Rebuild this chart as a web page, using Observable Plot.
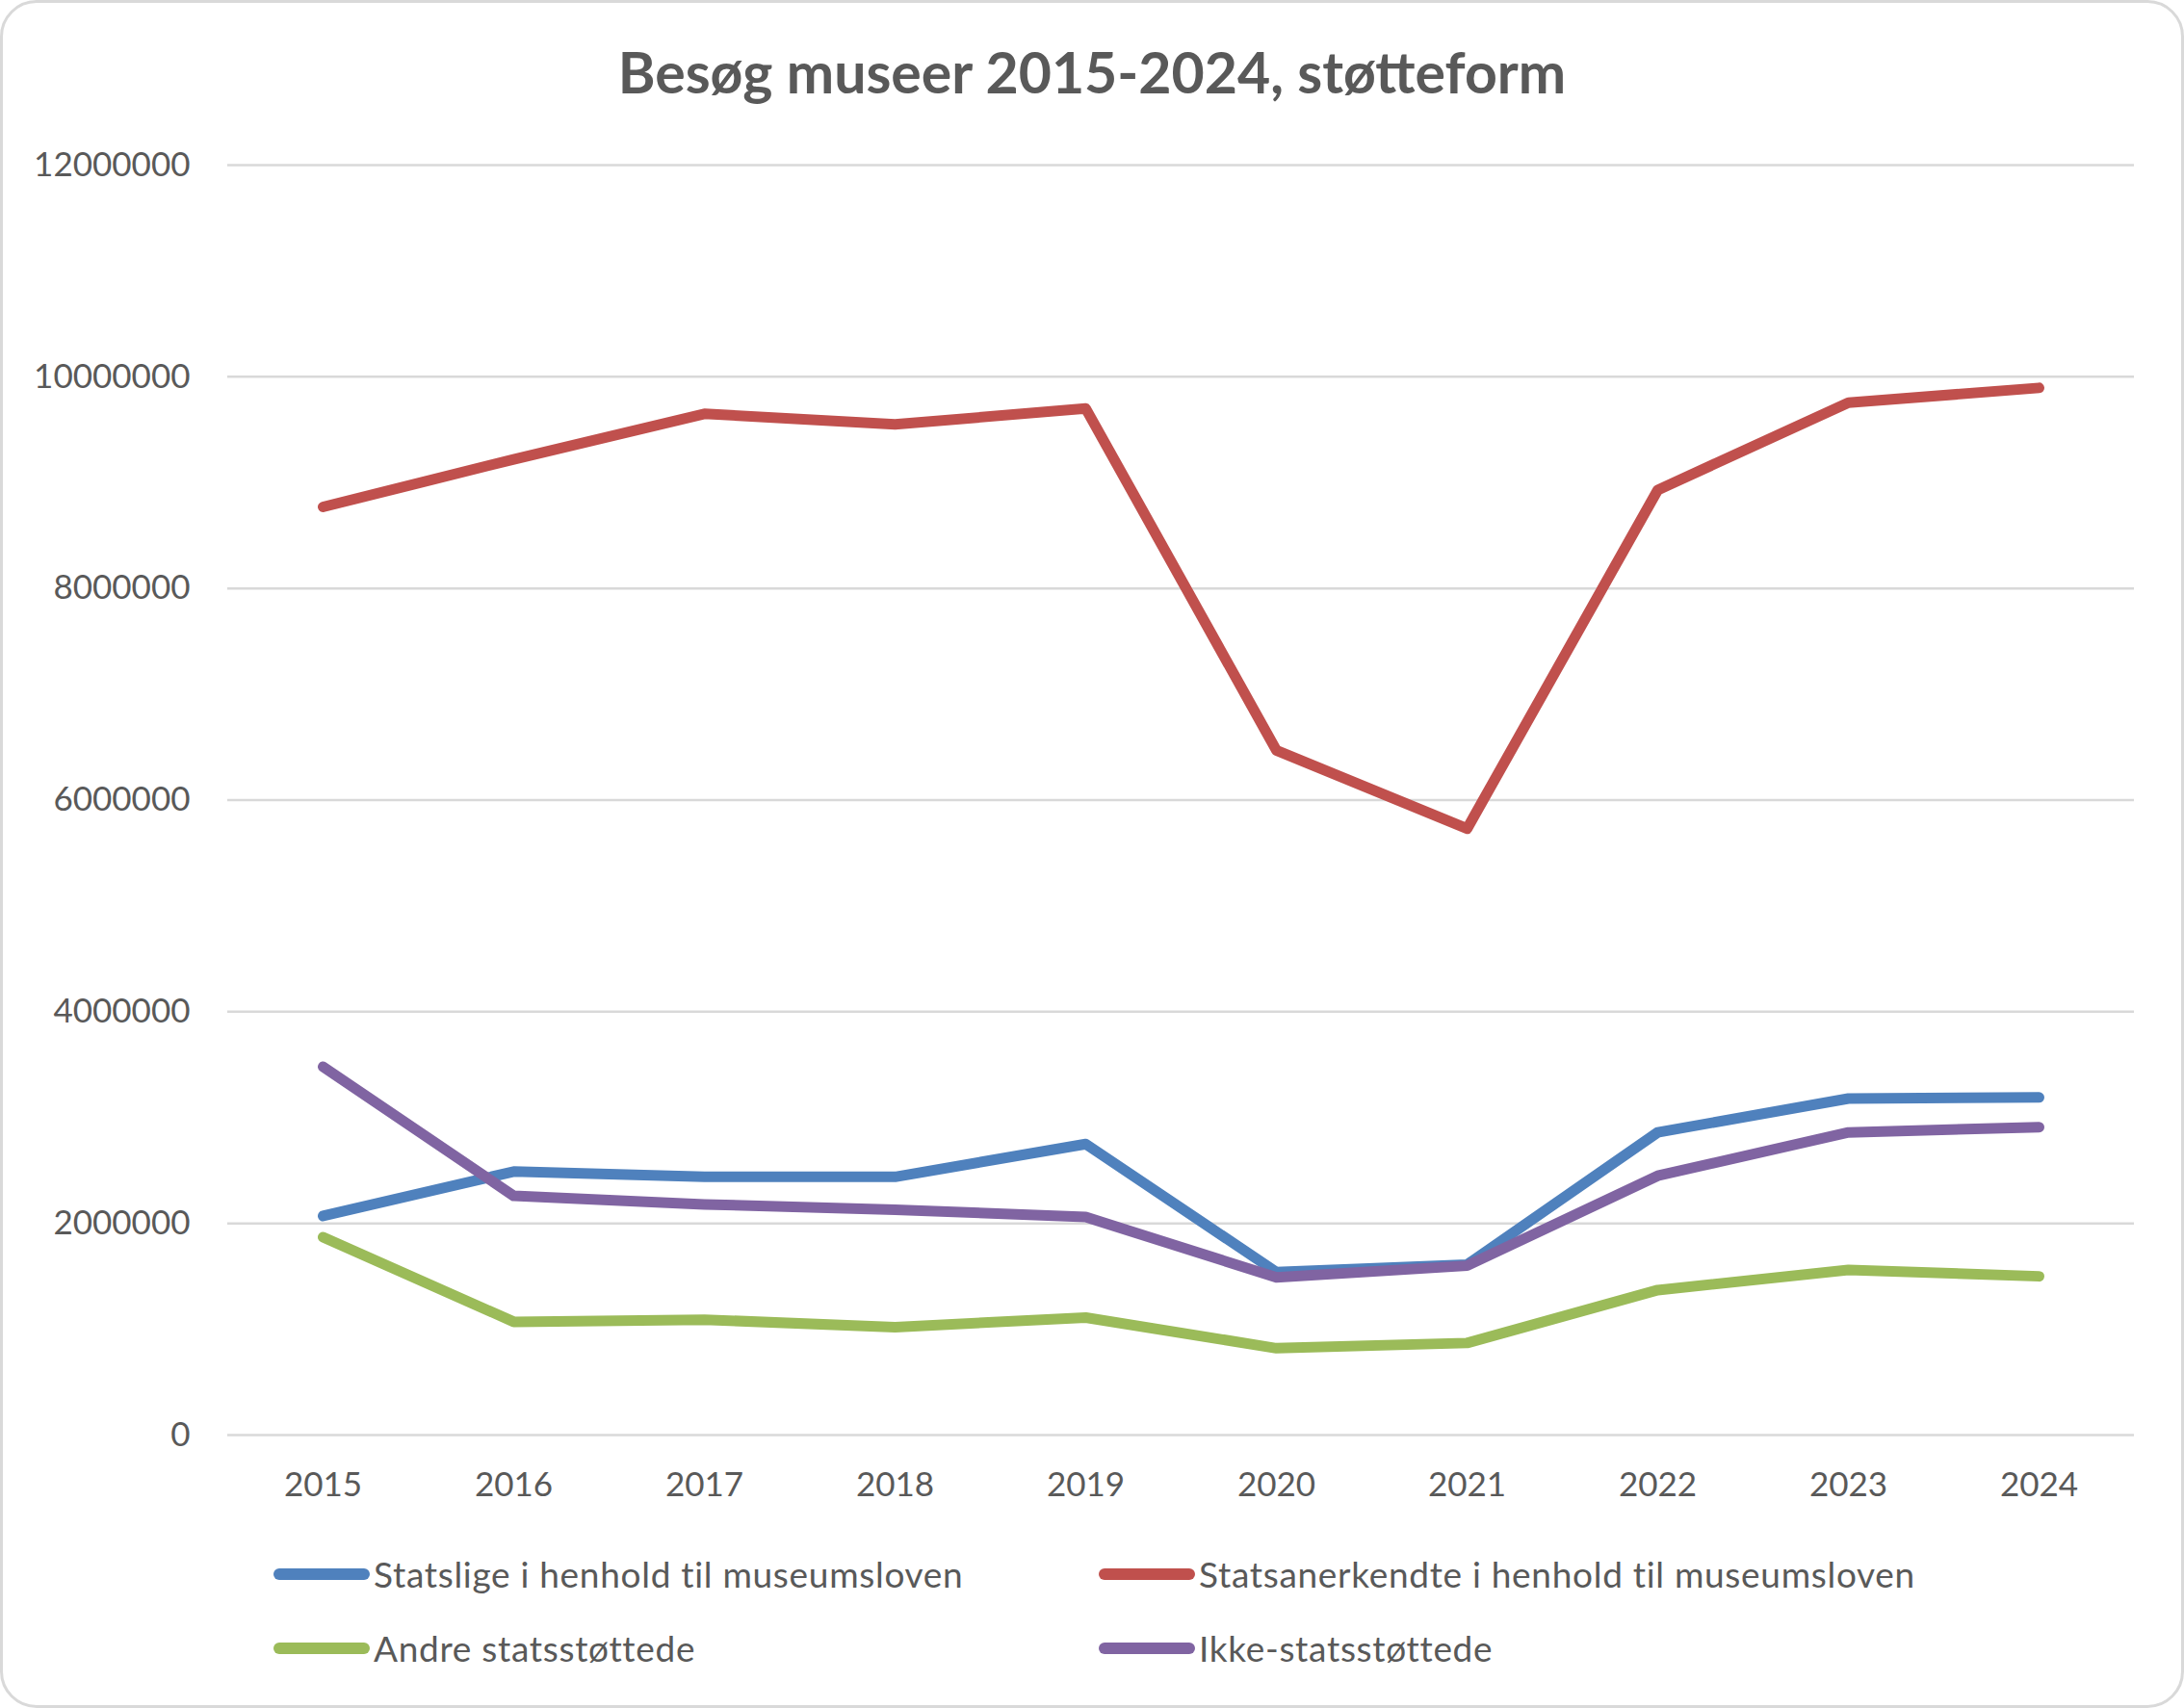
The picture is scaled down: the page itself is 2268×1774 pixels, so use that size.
<!DOCTYPE html>
<html>
<head>
<meta charset="utf-8">
<script src="https://cdn.jsdelivr.net/npm/d3@7"></script>
<script src="https://cdn.jsdelivr.net/npm/@observablehq/plot@0.6"></script>
<style>
  html, body { margin: 0; padding: 0; background: #fff; }
  #chart { position: relative; width: 2268px; height: 1774px; background: #fff; overflow: hidden; font-family: Lato, "Open Sans", sans-serif; color: #595959; }
  #frame { position: absolute; left: 0; top: 0; width: 2268px; height: 1774px; box-sizing: border-box; border: 3px solid #D9D9D9; border-radius: 38px; pointer-events: none; }
  #title { position: absolute; left: 0; top: 45px; width: 2268px; text-align: center; font-weight: 700; font-size: 59px; line-height: 59px; color: #595959; }
  #plot { position: absolute; left: 0; top: 120px; }
  #legend { position: absolute; left: 284px; top: 1596px; display: grid; grid-template-columns: 857px auto; grid-auto-rows: 77px; }
  .item { display: flex; align-items: center; font-size: 37px; letter-spacing: 0.7px; line-height: 77px; color: #595959; white-space: nowrap; }
  .sw { width: 100px; height: 12px; border-radius: 6px; margin-right: 4px; flex: none; }
</style>
</head>
<body>
<div id="chart">
  <div id="title"></div>
  <div id="plot"></div>
  <div id="legend"></div>
  <div id="frame"></div>
</div>
<script>
const titleText = "Besøg museer 2015-2024, støtteform";
const years = ["2015", "2016", "2017", "2018", "2019", "2020", "2021", "2022", "2023", "2024"];
const seriesNames = [
  "Statslige i henhold til museumsloven",
  "Statsanerkendte i henhold til museumsloven",
  "Andre statsstøttede",
  "Ikke-statsstøttede"
];
const seriesColors = ["#4F81BD", "#C0504D", "#9BBB59", "#8064A2"];
const statslige       = [2070000, 2490000, 2440000, 2440000, 2750000, 1540000, 1610000, 2860000, 3180000, 3190000];
const statsanerkendte = [8770000, 9220000, 9650000, 9550000, 9700000, 6470000, 5730000, 8930000, 9755000, 9895000];
const andre           = [1870000, 1070000, 1090000, 1020000, 1110000, 820000, 870000, 1370000, 1560000, 1500000];
const ikke            = [3480000, 2260000, 2180000, 2130000, 2060000, 1490000, 1600000, 2450000, 2860000, 2910000];
const yTicks = [0, 2000000, 4000000, 6000000, 8000000, 10000000, 12000000];

const seriesValues = [statslige, statsanerkendte, andre, ikke];
const data = [];
seriesNames.forEach((name, i) => {
  years.forEach((yr, j) => data.push({ series: name, year: yr, value: seriesValues[i][j] }));
});

document.getElementById("title").textContent = titleText;

const chart = Plot.plot({
  width: 2268,
  height: 1480,
  marginLeft: 236,
  marginRight: 52,
  marginTop: 51,
  marginBottom: 110,
  style: { fontFamily: "Lato, 'Open Sans', sans-serif", fontSize: "35px", color: "#595959", background: "transparent" },
  x: { type: "point", domain: years, padding: 0.5, label: null, tickSize: 0, tickPadding: 39 },
  y: { domain: [0, 12000000], ticks: yTicks, tickFormat: d => String(d), label: null, tickSize: 0, tickPadding: 39 },
  color: { domain: seriesNames, range: seriesColors },
  marks: [
    Plot.ruleY(yTicks, { stroke: "#D9D9D9", strokeWidth: 2.5 }),
    Plot.line(data, { x: "year", y: "value", z: "series", stroke: "series", strokeWidth: 11, strokeLinecap: "round", strokeLinejoin: "round" })
  ]
});
document.getElementById("plot").appendChild(chart);

const legend = document.getElementById("legend");
seriesNames.forEach((name, i) => {
  const item = document.createElement("div");
  item.className = "item";
  const sw = document.createElement("div");
  sw.className = "sw";
  sw.style.background = seriesColors[i];
  const label = document.createElement("span");
  label.textContent = name;
  item.appendChild(sw);
  item.appendChild(label);
  legend.appendChild(item);
});
</script>
</body>
</html>
